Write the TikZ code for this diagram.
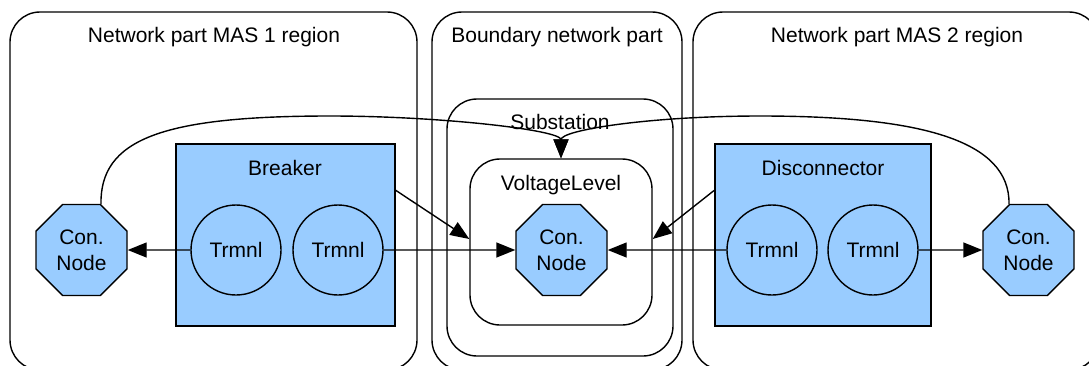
\documentclass[tikz,border=0pt]{standalone}
\usepackage{fontspec}
\setmainfont{Liberation Sans}
\usetikzlibrary{shapes.geometric,arrows.meta}
\definecolor{nodeblue}{HTML}{99CCFF}
\begin{document}
\begin{tikzpicture}[x=1pt,y=-1pt,
  every node/.style={font=\fontsize{21}{26}\selectfont},
  lw/.style={line width=1.4pt},
  region/.style={lw, draw, rounded corners=30pt},
  cluster/.style={lw, draw, rounded corners=30pt, inner sep=0pt},
  title/.style={anchor=base, inner sep=0pt},
  device/.style={lw, draw, fill=nodeblue, rectangle, inner sep=0pt},
  conn/.style={lw, draw, fill=nodeblue, regular polygon, regular polygon sides=8,
    minimum size=98.5pt, inner sep=0pt, align=center},
  term/.style={lw, draw, circle, minimum size=90pt, inner sep=0pt},
  arr/.style={lw, -{Triangle[length=19pt,width=15pt]}}]
\useasboundingbox (0,0) rectangle (1089,365);

% outer regions
\begin{scope}
\clip (0,0) rectangle (1089,365);
\draw[region] (10,12) rectangle (417,370);
\draw[region] (432,12) rectangle (682,370);
\draw[region] (693,12) rectangle (1099,370);
\end{scope}
\node[title] at (214,42) {Network part MAS 1 region};
\node[title] at (557,42) {Boundary network part};
\node[title] at (897,42) {Network part MAS 2 region};

% substation and voltage level
\node[cluster, minimum width=226pt, minimum height=257pt] (ss) at (560,227.5) {};
\node[title] at (560,129) {Substation};
\node[cluster, minimum width=182pt, minimum height=166pt] (vl) at (561,242) {};
\node[title] at (561,190) {VoltageLevel};

% switching devices with their terminals
\node[device, minimum width=219pt, minimum height=182pt] (bk) at (285.5,235) {};
\node[title] at (285,175) {Breaker};
\node[term] (bt1) at (236,250) {Trmnl};
\node[term] (bt2) at (338,250) {Trmnl};

\node[device, minimum width=216pt, minimum height=182pt] (dc) at (823,235) {};
\node[title] at (823,175) {Disconnector};
\node[term] (dt1) at (772,250) {Trmnl};
\node[term] (dt2) at (873,250) {Trmnl};

% connectivity nodes
\node[conn] (cnl) at (81.5,250) {Con.\\Node};
\node[conn] (cnc) at (561.5,250) {Con.\\Node};
\node[conn] (cnr) at (1028.5,250) {Con.\\Node};

% terminal connections
\draw[arr] (bt1) -- (cnl);
\draw[arr] (bt2) -- (cnc);
\draw[arr] (dt1) -- (cnc);
\draw[arr] (dt2) -- (cnr);

% device to voltage level
\draw[arr] ([yshift=-47pt]bk.north east) -- ([yshift=3pt]vl.west);
\draw[arr] ([yshift=-47pt]dc.north west) -- ([yshift=3pt]vl.east);

% connectivity nodes to voltage level
\coordinate (archl) at (330,116);
\coordinate (archr) at (760,116);
\draw[arr] (cnl.67) .. controls (100,140) and (160,116) .. (archl)
  .. controls (440,116) and (561,130) .. (vl.north);
\draw[arr] (cnr.113) .. controls (1010,140) and (920,116) .. (archr)
  .. controls (650,116) and (561,130) .. (vl.north);
\end{tikzpicture}
\end{document}
